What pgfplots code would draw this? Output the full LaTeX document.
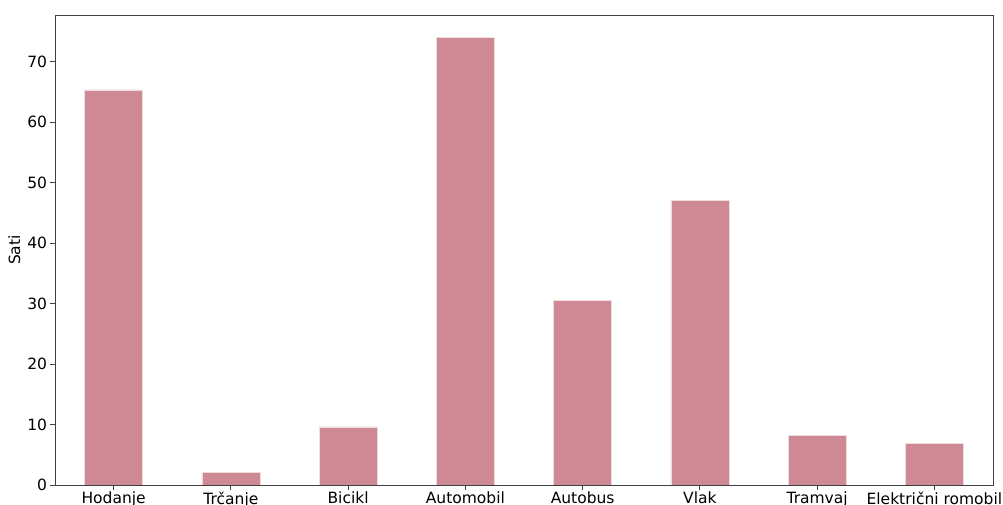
\documentclass[border=0pt]{standalone}
\usepackage{pgfplots}
\pgfplotsset{compat=1.18}
\usepackage{fontspec}
\setmainfont{DejaVu Sans}
\definecolor{barc}{RGB}{205,138,148}
\begin{document}
\begin{tikzpicture}
\useasboundingbox (-55bp,-20bp) rectangle (948bp,485bp);
\clip (-55bp,-20bp) rectangle (948bp,485bp);
\begin{axis}[at={(0,0)}, anchor=south west, scale only axis,
  width=938bp, height=470bp,
  xmin=-0.5, xmax=7.5, ymin=0, ymax=77.7,
  xtick={0,...,7},
  xticklabels={Hodanje,Trčanje,Bicikl,Automobil,Autobus,Vlak,Tramvaj,Električni romobil},
  ytick={0,10,...,70},
  tick align=outside, tick pos=left, major tick length=4.5bp,
  tick style={black!75, line width=0.8bp},
  axis line style={black!75, line width=0.8bp},
  ylabel={Sati},
  font=\fontsize{15.5bp}{18bp}\selectfont,
  ticklabel style={font=\fontsize{15.5bp}{18bp}\selectfont},
  /pgf/number format/assume math mode=true,
  ybar, bar width=58bp,
  xticklabel style={inner sep=2bp},
]
\addplot[fill=barc, draw=white!70!barc, line width=0.6bp] coordinates {
(0,65.3) (1,2.1) (2,9.6) (3,74.0) (4,30.55) (5,47.1) (6,8.25) (7,6.9)};
\end{axis}
\end{tikzpicture}
\end{document}
